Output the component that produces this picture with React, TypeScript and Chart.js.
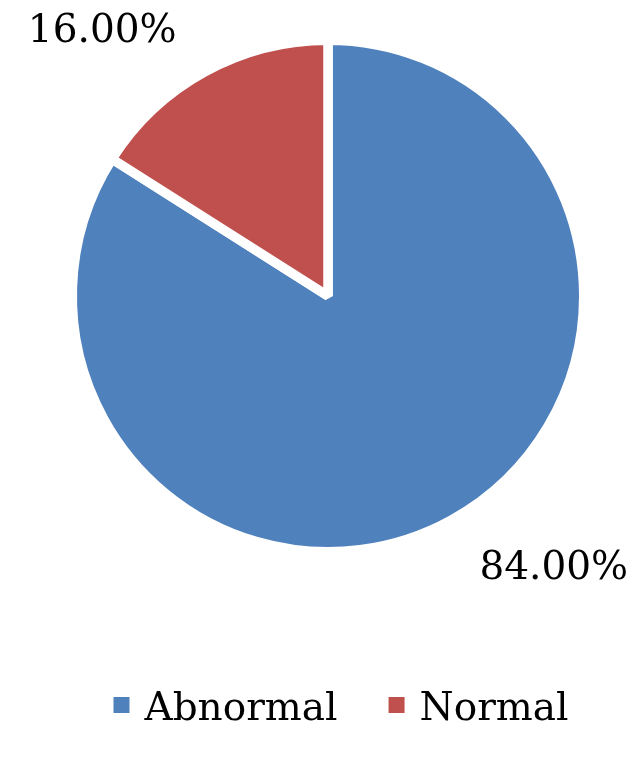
import React, { useEffect, useRef } from "react";
import { Chart, registerables } from "chart.js";

Chart.register(...registerables);

const categories: string[] = ["Abnormal", "Normal"];
const values: number[] = [84, 16];
const colors: string[] = ["#4F81BD", "#C0504D"];

const FONT = "39px 'DejaVu Serif'";

const labelPlugin = {
  id: "outsideLabels",
  afterDatasetsDraw(chart: any) {
    const ctx = chart.ctx;
    const meta = chart.getDatasetMeta(0);
    ctx.save();
    ctx.font = FONT;
    ctx.fillStyle = "#000000";
    meta.data.forEach((arc: any, i: number) => {
      const p = arc.getProps(["x", "y", "startAngle", "endAngle", "outerRadius"], true);
      const mid = (p.startAngle + p.endAngle) / 2 - (2 * Math.PI) / 180;
      const d = p.outerRadius + 40;
      const cx = Math.cos(mid);
      const cy = Math.sin(mid);
      const ax = p.x + d * cx;
      const ay = p.y + d * cy;
      const text = values[i].toFixed(2) + "%";
      ctx.textAlign = cx < 0 ? "right" : "left";
      ctx.textBaseline = "alphabetic";
      const y = cy < 0 ? ay : ay + 29;
      ctx.fillText(text, ax, y);
    });
    ctx.restore();
  },
};

const legendPlugin = {
  id: "customLegend",
  afterDraw(chart: any) {
    const ctx = chart.ctx;
    ctx.save();
    ctx.font = FONT;
    const box = 16;
    const gapText = 15;
    const gapItem = 51;
    const widths = categories.map((c) => ctx.measureText(c).width);
    const total =
      widths.reduce((a, w) => a + box + gapText + w, 0) + gapItem * (categories.length - 1);
    let x = 341 - total / 2;
    const baseline = 720;
    categories.forEach((c, i) => {
      ctx.fillStyle = colors[i];
      ctx.fillRect(x, 697, box, box);
      x += box + gapText;
      ctx.fillStyle = "#000000";
      ctx.textAlign = "left";
      ctx.textBaseline = "alphabetic";
      ctx.fillText(c, x, baseline);
      x += widths[i] + gapItem;
    });
    ctx.restore();
  },
};

export default function App() {
  const ref = useRef<HTMLCanvasElement | null>(null);
  useEffect(() => {
    if (!ref.current) return;
    const chart = new Chart(ref.current, {
      type: "pie",
      data: {
        labels: categories,
        datasets: [
          {
            data: values,
            backgroundColor: colors,
            borderColor: "#FFFFFF",
            borderWidth: 9.5,
          },
        ],
      },
      options: {
        animation: false,
        responsive: true,
        maintainAspectRatio: false,
        layout: { padding: { top: 35.5, bottom: 206.5, left: 30, right: 16 } },
        plugins: {
          legend: { display: false },
          tooltip: { enabled: false },
        },
      },
      plugins: [labelPlugin, legendPlugin],
    });
    return () => chart.destroy();
  }, []);
  return (
    <div style={{ position: "absolute", left: 0, top: 0, width: 642, height: 763, background: "#fff" }}>
      <canvas ref={ref} />
    </div>
  );
}
